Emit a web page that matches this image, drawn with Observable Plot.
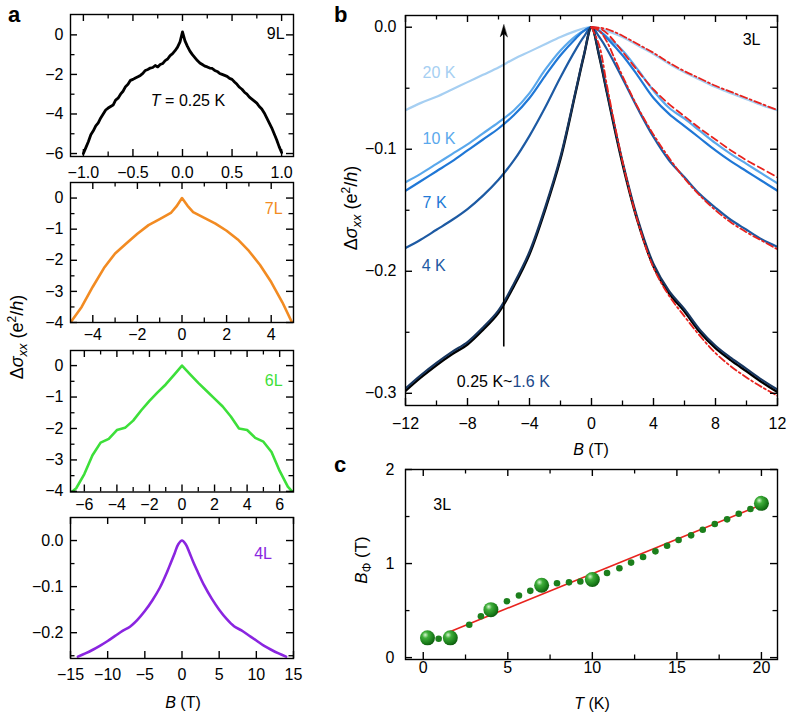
<!DOCTYPE html>
<html><head><meta charset="utf-8">
<script src="https://cdn.jsdelivr.net/npm/d3@7"></script>
<script src="https://cdn.jsdelivr.net/npm/@observablehq/plot@0.6"></script>
<style>
body{margin:0;background:#fff;}
#wrap{position:relative;width:788px;height:714px;overflow:hidden;background:#fff}
#wrap svg{position:absolute;left:0;top:0}
</style></head><body><div id="wrap"></div>
<script>
// ---------- data ----------
// panel a, 9L (T = 0.25 K)
const B9 = [-1,-0.975,-0.95,-0.925,-0.9,-0.875,-0.85,-0.825,-0.8,-0.775,-0.75,-0.725,-0.7,-0.675,-0.65,-0.625,-0.6,-0.575,-0.55,-0.525,-0.5,-0.475,-0.45,-0.425,-0.4,-0.375,-0.35,-0.325,-0.3,-0.275,-0.25,-0.225,-0.2,-0.175,-0.15,-0.125,-0.1,-0.075,-0.05,-0.025,0,0.025,0.05,0.075,0.1,0.125,0.15,0.175,0.2,0.225,0.25,0.275,0.3,0.325,0.35,0.375,0.4,0.425,0.45,0.475,0.5,0.525,0.55,0.575,0.6,0.625,0.65,0.675,0.7,0.725,0.75,0.775,0.8,0.825,0.85,0.875,0.9,0.925,0.95,0.975,1];
const S9 = [-6.00,-5.70,-5.40,-5.05,-4.85,-4.60,-4.45,-4.20,-4.00,-3.80,-3.70,-3.62,-3.55,-3.30,-3.20,-3.00,-2.85,-2.62,-2.50,-2.30,-2.25,-2.18,-2.12,-2.05,-1.95,-1.80,-1.75,-1.68,-1.65,-1.55,-1.62,-1.50,-1.45,-1.30,-1.22,-1.05,-0.95,-0.80,-0.62,-0.35,0.15,-0.30,-0.58,-0.82,-1.00,-1.15,-1.30,-1.42,-1.50,-1.58,-1.62,-1.68,-1.70,-1.80,-1.85,-1.95,-2.00,-2.05,-2.10,-2.20,-2.25,-2.38,-2.50,-2.65,-2.75,-2.90,-3.00,-3.15,-3.25,-3.35,-3.45,-3.62,-3.75,-3.95,-4.20,-4.45,-4.70,-5.00,-5.30,-5.65,-5.95];
// panel a, 7L
const B7 = [-5,-4.5,-4,-3.5,-3,-2.5,-2,-1.5,-1,-0.5,-0.25,0,0.25,0.5,1,1.5,2,2.5,3,3.5,4,4.5,5];
const S7 = [-4.0,-3.5,-2.85,-2.25,-1.78,-1.46,-1.15,-0.87,-0.68,-0.48,-0.27,0,-0.25,-0.45,-0.64,-0.82,-1.05,-1.33,-1.70,-2.15,-2.70,-3.35,-4.1];
// panel a, 6L
const B6 = [-6.85,-6.5,-6,-5.5,-5,-4.5,-4,-3.5,-3,-2.5,-2,-1.5,-1,-0.5,0,0.5,1,1.5,2,2.5,3,3.5,4,4.5,5,5.5,6,6.5,6.85];
const S6 = [-4.05,-3.9,-3.45,-2.85,-2.45,-2.33,-2.05,-1.98,-1.75,-1.42,-1.12,-0.85,-0.6,-0.3,0,-0.28,-0.55,-0.8,-1.05,-1.3,-1.62,-2.0,-2.05,-2.3,-2.42,-2.75,-3.35,-3.85,-4.05];
// panel a, 4L
const B4 = [-14,-13,-12,-11,-10,-9,-8,-7,-6,-5,-4,-3,-2,-1.5,-1,-0.5,0,0.5,1,1.5,2,3,4,5,6,7,8,9,10,11,12,13,14];
const S4 = [-0.252,-0.245,-0.237,-0.228,-0.218,-0.207,-0.196,-0.187,-0.172,-0.153,-0.130,-0.103,-0.068,-0.048,-0.028,-0.008,0,-0.008,-0.026,-0.046,-0.064,-0.098,-0.126,-0.150,-0.170,-0.186,-0.195,-0.206,-0.217,-0.228,-0.237,-0.245,-0.252];

// panel b, 3L
const Bb = [-12,-11,-10,-9,-8,-7,-6,-5,-4,-3,-2,-1,-0.5,0,0.5,1,2,3,4,5,6,7,8,9,10,11,12];
const s20K = [-0.068,-0.062,-0.057,-0.051,-0.045,-0.039,-0.033,-0.026,-0.020,-0.014,-0.008,-0.003,-0.001,0,-0.001,-0.003,-0.008,-0.015,-0.022,-0.030,-0.037,-0.043,-0.049,-0.054,-0.059,-0.064,-0.068];
const s10K = [-0.127,-0.120,-0.112,-0.104,-0.096,-0.087,-0.078,-0.068,-0.054,-0.035,-0.019,-0.007,-0.003,0,-0.003,-0.008,-0.019,-0.035,-0.052,-0.066,-0.075,-0.085,-0.095,-0.104,-0.112,-0.120,-0.128];
const s7K = [-0.134,-0.126,-0.118,-0.110,-0.101,-0.092,-0.083,-0.072,-0.058,-0.040,-0.023,-0.009,-0.003,0,-0.003,-0.009,-0.023,-0.040,-0.058,-0.071,-0.081,-0.091,-0.101,-0.110,-0.118,-0.126,-0.134];
const s4K = [-0.181,-0.174,-0.166,-0.158,-0.149,-0.138,-0.125,-0.109,-0.089,-0.066,-0.041,-0.018,-0.008,0,-0.008,-0.018,-0.042,-0.067,-0.090,-0.109,-0.123,-0.137,-0.148,-0.158,-0.166,-0.174,-0.180];
const s16K = [-0.296,-0.285,-0.275,-0.266,-0.258,-0.246,-0.232,-0.210,-0.184,-0.148,-0.106,-0.051,-0.023,0,-0.023,-0.053,-0.110,-0.158,-0.194,-0.216,-0.231,-0.248,-0.261,-0.271,-0.280,-0.289,-0.297];
const s025K = [-0.298,-0.287,-0.277,-0.268,-0.260,-0.248,-0.234,-0.212,-0.186,-0.150,-0.108,-0.052,-0.024,0,-0.024,-0.054,-0.112,-0.160,-0.196,-0.218,-0.233,-0.250,-0.263,-0.273,-0.282,-0.291,-0.299];
// fits (B >= 0)
const Bfit = [0,0.5,1,1.5,2,3,4,5,6,7,8,9,10,11,12];
const fit20K = [0,-0.0004,-0.0015,-0.004,-0.007,-0.014,-0.021,-0.029,-0.036,-0.042,-0.048,-0.053,-0.058,-0.063,-0.068];
const fit10K = [0,-0.001,-0.005,-0.012,-0.020,-0.036,-0.051,-0.063,-0.073,-0.083,-0.092,-0.101,-0.109,-0.116,-0.123];
const fit4K = [0,-0.003,-0.012,-0.026,-0.040,-0.066,-0.088,-0.107,-0.124,-0.138,-0.150,-0.160,-0.168,-0.175,-0.182];
const fit025K = [0,-0.015,-0.048,-0.080,-0.110,-0.160,-0.197,-0.220,-0.237,-0.253,-0.267,-0.278,-0.287,-0.295,-0.302];

// panel c
const Tbig = [0.25,1.6,4,7,10,20];
const Bphi = [0.21,0.21,0.51,0.77,0.83,1.64];
const Tsmall = [0.91,2.72,3.41,4.95,5.66,6.33,7.91,8.62,9.29,10.87,11.6,12.29,13.0,13.73,14.42,15.1,15.84,16.53,17.24,17.97,18.66,19.35];
const Bsmall = [0.20,0.35,0.44,0.60,0.66,0.71,0.79,0.80,0.81,0.90,0.95,1.01,1.07,1.13,1.19,1.25,1.30,1.36,1.42,1.47,1.53,1.58];
const Tline = [1.5,20];
const Bline = [0.27,1.625];

// ---------- helpers ----------
const FONT = '"Liberation Sans", Arial, Helvetica, sans-serif';
const W = 788, H = 714;
const tab = (xs, ys) => xs.map((x, i) => ({x, y: ys[i]}));
const id = d => d;

// inward ticks on all four sides (as short rules), labels bottom and left
function axes(o) {
  const fw = o.box[1] - o.box[0], fh = o.box[3] - o.box[2];
  const [x0, x1] = o.xDomain, [y0, y1] = o.yDomain;
  const ux = (x1 - x0) / fw, uy = (y1 - y0) / fh; // data units per pixel
  const m = [];
  const addX = (ticks, len, sw) => {
    m.push(Plot.ruleX(ticks, {x: id, y1: () => y0, y2: () => y0 + len * uy, stroke: "black", strokeWidth: sw}));
    m.push(Plot.ruleX(ticks, {x: id, y1: () => y1, y2: () => y1 - len * uy, stroke: "black", strokeWidth: sw}));
  };
  const addY = (ticks, len, sw) => {
    m.push(Plot.ruleY(ticks, {y: id, x1: () => x0, x2: () => x0 + len * ux, stroke: "black", strokeWidth: sw}));
    m.push(Plot.ruleY(ticks, {y: id, x1: () => x1, x2: () => x1 - len * ux, stroke: "black", strokeWidth: sw}));
  };
  addX(o.xMajor, 7, 1.4);
  if (o.xMinor) addX(o.xMinor, 4.5, 1.3);
  addY(o.yMajor, 7, 1.4);
  if (o.yMinor) addY(o.yMinor, 4.5, 1.3);
  m.push(Plot.frame({stroke: "black", strokeWidth: 1.4}));
  m.push(Plot.axisX(o.xMajor, {anchor: "bottom", tickSize: 0, tickPadding: o.xPad, tickFormat: o.xFmt, label: null}));
  m.push(Plot.axisY(o.yMajor, {anchor: "left", tickSize: 0, tickPadding: o.yPad, tickFormat: o.yFmt, label: null}));
  return m;
}

function panel(o) {
  return Plot.plot({
    width: W, height: H,
    marginLeft: o.box[0], marginRight: W - o.box[1], marginTop: o.box[2], marginBottom: H - o.box[3],
    x: {domain: o.xDomain}, y: {domain: o.yDomain},
    style: {background: "transparent", fontFamily: FONT, fontSize: "16px", color: "black", overflow: "visible"},
    marks: [...o.marks, ...axes(o)]
  });
}
const f1 = d3.format(".1f"), fd = d3.format("d");
const wrap = document.getElementById("wrap");

// ---------- panel a ----------
wrap.append(panel({
  box: [70, 293, 14, 156], xDomain: [-1.13, 1.12], yDomain: [-6.15, 1.03],
  xMajor: [-1, -0.5, 0, 0.5, 1], xMinor: [-0.75, -0.25, 0.25, 0.75], xFmt: f1, xPad: 10,
  yMajor: [0, -2, -4, -6], yMinor: [-1, -3, -5], yFmt: fd, yPad: 7,
  marks: [
    Plot.line(tab(B9, S9), {x: "x", y: "y", stroke: "black", strokeWidth: 2.8, clip: true}),
    Plot.text(["9L"], {x: 1.03, y: 0.04, text: id, textAnchor: "end", fontSize: 16})
  ]
}));
wrap.append(panel({
  box: [70, 293, 182, 322], xDomain: [-5, 5], yDomain: [-4, 0.5],
  xMajor: [-4, -2, 0, 2, 4], xMinor: [-3, -1, 1, 3], xFmt: fd, xPad: 6,
  yMajor: [0, -1, -2, -3, -4], yMinor: [-0.5, -1.5, -2.5, -3.5], yFmt: fd, yPad: 7,
  marks: [
    Plot.line(tab(B7, S7), {x: "x", y: "y", stroke: "#f28b22", strokeWidth: 2.6, clip: true}),
    Plot.text(["7L"], {x: 4.51, y: -0.34, text: id, textAnchor: "end", fill: "#f28b22", fontSize: 16})
  ]
}));
wrap.append(panel({
  box: [70, 293, 350, 491.5], xDomain: [-6.85, 6.85], yDomain: [-4.02, 0.48],
  xMajor: [-6, -4, -2, 0, 2, 4, 6], xMinor: [-5, -3, -1, 1, 3, 5], xFmt: fd, xPad: 7,
  yMajor: [0, -1, -2, -3, -4], yMinor: [-0.5, -1.5, -2.5, -3.5], yFmt: fd, yPad: 7,
  marks: [
    Plot.line(tab(B6, S6), {x: "x", y: "y", stroke: "#3ddf3a", strokeWidth: 2.6, clip: true}),
    Plot.text(["6L"], {x: 6.18, y: -0.48, text: id, textAnchor: "end", fill: "#3ddf3a", fontSize: 16})
  ]
}));
wrap.append(panel({
  box: [70, 293, 517, 658], xDomain: [-15, 15], yDomain: [-0.256, 0.05],
  xMajor: [-15, -10, -5, 0, 5, 10, 15], xFmt: fd, xPad: 10,
  yMajor: [0, -0.1, -0.2], yMinor: [-0.05, -0.15, -0.25], yFmt: f1, yPad: 7,
  marks: [
    Plot.line(tab(B4, S4), {x: "x", y: "y", stroke: "#8a25e0", strokeWidth: 2.6, curve: "catmull-rom", clip: true}),
    Plot.text(["4L"], {x: 12.1, y: -0.028, text: id, textAnchor: "end", fill: "#8a25e0", fontSize: 16})
  ]
}));

// ---------- panel b ----------
const red = "#e8231e";
const headShape = {draw(ctx, l) { ctx.moveTo(0, -l); ctx.lineTo(-3.5, 0); ctx.lineTo(0, -l * 0.28); ctx.lineTo(3.5, 0); ctx.closePath(); }};
wrap.append(panel({
  box: [405, 777, 15, 405], xDomain: [-12, 12], yDomain: [-0.31, 0.0096],
  xMajor: [-12, -8, -4, 0, 4, 8, 12], xMinor: [-10, -6, -2, 2, 6, 10], xFmt: fd, xPad: 12,
  yMajor: [0, -0.1, -0.2, -0.3], yMinor: [-0.05, -0.15, -0.25], yFmt: f1, yPad: 9,
  marks: [
    Plot.line(tab(Bb, s20K), {x: "x", y: "y", stroke: "#a6cff2", strokeWidth: 2.2, curve: "catmull-rom", clip: true}),
    Plot.line(tab(Bb, s10K), {x: "x", y: "y", stroke: "#5aa8ec", strokeWidth: 2.2, curve: "catmull-rom", clip: true}),
    Plot.line(tab(Bb, s7K), {x: "x", y: "y", stroke: "#1f77d6", strokeWidth: 2.2, curve: "catmull-rom", clip: true}),
    Plot.line(tab(Bb, s4K), {x: "x", y: "y", stroke: "#1d5aa3", strokeWidth: 2.2, curve: "catmull-rom", clip: true}),
    Plot.line(tab(Bb, s025K), {x: "x", y: "y", stroke: "black", strokeWidth: 2.4, curve: "catmull-rom", clip: true}),
    Plot.line(tab(Bb, s16K), {x: "x", y: "y", stroke: "#17365f", strokeWidth: 2.2, curve: "catmull-rom", clip: true}),
    Plot.line(tab(Bfit, fit20K), {x: "x", y: "y", stroke: red, strokeWidth: 1.8, strokeDasharray: "7,3,2,3", curve: "catmull-rom", clip: true}),
    Plot.line(tab(Bfit, fit10K), {x: "x", y: "y", stroke: red, strokeWidth: 1.8, strokeDasharray: "7,4", curve: "catmull-rom", clip: true}),
    Plot.line(tab(Bfit, fit4K), {x: "x", y: "y", stroke: red, strokeWidth: 1.8, strokeDasharray: "7,3,2,3", curve: "catmull-rom", clip: true}),
    Plot.line(tab(Bfit, fit025K), {x: "x", y: "y", stroke: red, strokeWidth: 1.8, strokeDasharray: "7,3,2,3", curve: "catmull-rom", clip: true}),
    Plot.ruleX([-5.66], {x: id, y1: () => -0.262, y2: () => -0.004, stroke: "black", strokeWidth: 1.6}),
    Plot.vector([-5.66], {x: id, y: () => 0.002, length: 12, anchor: "end", shape: headShape, fill: "black", stroke: "black", strokeWidth: 0.5}),
    Plot.text(["20 K"], {x: -10.9, y: -0.0371, text: id, textAnchor: "start", fill: "#a6cff2", fontSize: 16}),
    Plot.text(["10 K"], {x: -10.9, y: -0.0913, text: id, textAnchor: "start", fill: "#5aa8ec", fontSize: 16}),
    Plot.text(["7 K"], {x: -10.9, y: -0.1437, text: id, textAnchor: "start", fill: "#2179d6", fontSize: 16}),
    Plot.text(["4 K"], {x: -10.95, y: -0.1953, text: id, textAnchor: "start", fill: "#1d5aa3", fontSize: 16}),
    Plot.text(["0.25 K~"], {x: -5.1, y: -0.291, text: id, textAnchor: "end", fill: "black", fontSize: 16}),
    Plot.text(["1.6 K"], {x: -5.1, y: -0.291, text: id, textAnchor: "start", fill: "#1d4a8c", fontSize: 16}),
    Plot.text(["3L"], {x: 10.9, y: -0.0101, text: id, textAnchor: "end", fill: "black", fontSize: 16})
  ]
}));

// ---------- panel c ----------
const pc = panel({
  box: [405, 777, 469, 659], xDomain: [-1.05, 20.95], yDomain: [-0.02, 2],
  xMajor: [0, 5, 10, 15, 20], xMinor: [2.5, 7.5, 12.5, 17.5], xFmt: fd, xPad: 2,
  yMajor: [0, 1, 2], yMinor: [0.5, 1.5], yFmt: fd, yPad: 11,
  marks: [
    Plot.line(tab(Tline, Bline), {x: "x", y: "y", stroke: red, strokeWidth: 1.6}),
    Plot.dot(tab(Tsmall, Bsmall), {x: "x", y: "y", r: 3.3, fill: "#1c7f1c", stroke: null}),
    Plot.dot(tab(Tbig, Bphi), {x: "x", y: "y", r: 7.5, fill: "url(#sph)", stroke: null}),
    Plot.text(["3L"], {x: 0.59, y: 1.62, text: id, textAnchor: "start", fill: "black", fontSize: 16})
  ]
});
d3.select(pc).insert("defs", ":first-child").html(
  '<radialGradient id="sph" cx="0.38" cy="0.35" r="0.7" fx="0.35" fy="0.3">' +
  '<stop offset="0" stop-color="#d8f7d0"/><stop offset="0.3" stop-color="#3fae3a"/>' +
  '<stop offset="0.75" stop-color="#197c19"/><stop offset="1" stop-color="#0c560c"/></radialGradient>');
wrap.append(pc);

// ---------- rich text annotations (labels, titles) ----------
const ov = d3.select(wrap).append("svg").attr("width", W).attr("height", H)
  .style("font-family", FONT).style("font-size", "16px");
const t = (x, y, html, extra = {}) => {
  const el = ov.append("text").attr("x", x).attr("y", y).attr("text-anchor", extra.anchor || "middle").html(html);
  if (extra.rotate) el.attr("x", 0).attr("y", 0).attr("transform", `translate(${x},${y}) rotate(-90)`);
  if (extra.bold) el.attr("font-weight", "bold").attr("font-size", 22);
  if (extra.size) el.attr("font-size", extra.size);
  return el;
};
t(8, 22, "a", {anchor: "start", bold: true});
t(334, 22, "b", {anchor: "start", bold: true});
t(334, 472, "c", {anchor: "start", bold: true});
t(188, 106, '<tspan font-style="italic">T</tspan> = 0.25 K');
const ylab = 'Δ<tspan font-style="italic">σ</tspan><tspan font-style="italic" font-size="13" dy="4">xx</tspan><tspan dy="-4"> (e</tspan><tspan font-size="12" dy="-7">2</tspan><tspan dy="7">/</tspan><tspan font-style="italic">h</tspan>)';
t(23, 337, ylab, {rotate: true, size: 18});
t(357, 208, ylab, {rotate: true, size: 18});
t(367, 560, '<tspan font-style="italic">B</tspan><tspan font-size="12" dy="4">Φ</tspan><tspan dy="-4"> (T)</tspan>', {rotate: true, size: 17});
t(183, 708, '<tspan font-style="italic">B</tspan> (T)');
t(591, 455, '<tspan font-style="italic">B</tspan> (T)');
t(592, 709, '<tspan font-style="italic">T</tspan> (K)');
</script></body></html>
